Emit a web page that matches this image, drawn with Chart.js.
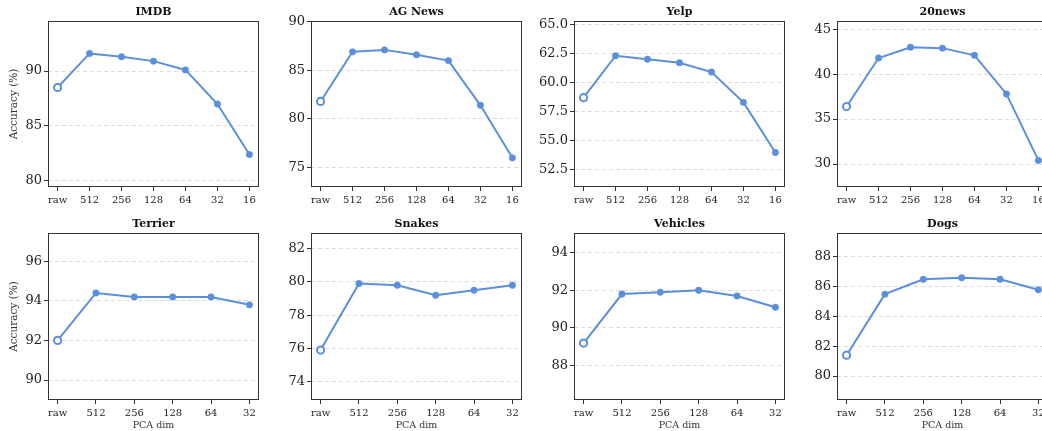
<!DOCTYPE html>
<html>
<head>
<meta charset="utf-8">
<script src="https://cdn.jsdelivr.net/npm/chart.js@4/dist/chart.umd.min.js"></script>
<style>
    html, body { margin: 0; padding: 0; background: #fff; overflow: hidden; }
    #grid { position: relative; width: 1042px; height: 431px; overflow: hidden; }
    #grid canvas { position: absolute; }
</style>
</head>
<body>
<div id="grid"></div>
<script>
// PCA dimension sweep: accuracy per dataset

const textDims = ['raw', '512', '256', '128', '64', '32', '16'];
const imageDims = ['raw', '512', '256', '128', '64', '32'];

const imdbAcc = [88.5, 91.6, 91.3, 90.9, 90.1, 87.0, 82.4];
const agNewsAcc = [81.8, 86.9, 87.1, 86.6, 86.0, 81.4, 76.0];
const yelpAcc = [58.7, 62.3, 62.0, 61.7, 60.9, 58.3, 54.0];
const news20Acc = [36.4, 41.8, 43.0, 42.9, 42.1, 37.8, 30.4];
const terrierAcc = [92.0, 94.4, 94.2, 94.2, 94.2, 93.8];
const snakesAcc = [75.9, 79.9, 79.8, 79.2, 79.5, 79.8];
const vehiclesAcc = [89.2, 91.8, 91.9, 92.0, 91.7, 91.1];
const dogsAcc = [81.4, 85.5, 86.5, 86.6, 86.5, 85.8];

const imdbTicks = [80, 85, 90];
const agNewsTicks = [75, 80, 85, 90];
const yelpTicks = [52.5, 55, 57.5, 60, 62.5, 65];
const news20Ticks = [30, 35, 40, 45];
const terrierTicks = [90, 92, 94, 96];
const snakesTicks = [74, 76, 78, 80, 82];
const vehiclesTicks = [88, 90, 92, 94];
const dogsTicks = [80, 82, 84, 86, 88];

const SERIF = "'DejaVu Serif', 'Liberation Serif', serif";
const LINE = '#5b8fdb';
const AXIS = '#333';

const panels = [
    { title: 'IMDB', dims: textDims, acc: imdbAcc, ticks: imdbTicks, yMin: 79.45, yMax: 94.55, dec: 0, row: 0, col: 0 },
    { title: 'AG News', dims: textDims, acc: agNewsAcc, ticks: agNewsTicks, yMin: 73.0, yMax: 90.07, dec: 0, row: 0, col: 1 },
    { title: 'Yelp', dims: textDims, acc: yelpAcc, ticks: yelpTicks, yMin: 51.04, yMax: 65.28, dec: 1, row: 0, col: 2 },
    { title: '20news', dims: textDims, acc: news20Acc, ticks: news20Ticks, yMin: 27.44, yMax: 45.92, dec: 0, row: 0, col: 3 },
    { title: 'Terrier', dims: imageDims, acc: terrierAcc, ticks: terrierTicks, yMin: 88.99, yMax: 97.43, dec: 0, row: 1, col: 0 },
    { title: 'Snakes', dims: imageDims, acc: snakesAcc, ticks: snakesTicks, yMin: 72.9, yMax: 82.94, dec: 0, row: 1, col: 1 },
    { title: 'Vehicles', dims: imageDims, acc: vehiclesAcc, ticks: vehiclesTicks, yMin: 86.18, yMax: 95.04, dec: 0, row: 1, col: 2 },
    { title: 'Dogs', dims: imageDims, acc: dogsAcc, ticks: dogsTicks, yMin: 78.39, yMax: 89.61, dec: 0, row: 1, col: 3 }
];

// full box around the plot area (top/right spines included)
const framePlugin = {
    id: 'frame',
    afterDraw(chart) {
        const { ctx, chartArea: a } = chart;
        ctx.save();
        ctx.strokeStyle = AXIS;
        ctx.lineWidth = 1;
        ctx.strokeRect(Math.round(a.left) + 0.5, Math.round(a.top) + 0.5,
            Math.round(a.right - a.left) - 1, Math.round(a.bottom - a.top) - 1);
        ctx.restore();
    }
};

// bold title centred over the plot area, not the whole canvas
const panelTitlePlugin = {
    id: 'panelTitle',
    afterDraw(chart, args, opts) {
        const { ctx, chartArea: a } = chart;
        ctx.save();
        ctx.fillStyle = '#111';
        ctx.font = `bold 11px ${SERIF}`;
        ctx.textAlign = 'center';
        ctx.textBaseline = 'middle';
        ctx.fillText(opts.text, (a.left + a.right) / 2, a.top - 9);
        ctx.restore();
    }
};

function buildPanel(p) {
    const grid = document.getElementById('grid');
    const canvas = document.createElement('canvas');
    const bottomRow = p.row === 1;
    canvas.width = 265;
    canvas.height = bottomRow ? 219 : 215;
    canvas.style.left = (p.col * 263) + 'px';
    canvas.style.top = (bottomRow ? 212 : 0) + 'px';
    grid.appendChild(canvas);

    const n = p.acc.length;
    const margin = 0.05 * (n - 1);

    new Chart(canvas, {
        type: 'line',
        data: {
            datasets: [{
                data: p.acc.map((v, i) => ({ x: i, y: v })),
                borderColor: LINE,
                borderWidth: 2,
                tension: 0,
                pointRadius: p.acc.map((_, i) => i === 0 ? 3.6 : 3.2),
                pointBackgroundColor: p.acc.map((_, i) => i === 0 ? '#fff' : LINE),
                pointBorderColor: LINE,
                pointBorderWidth: p.acc.map((_, i) => i === 0 ? 2 : 0.6),
                clip: false
            }]
        },
        options: {
            responsive: false,
            animation: false,
            events: [],
            layout: { padding: { left: 0, right: 4, top: 21, bottom: 0 } },
            plugins: {
                legend: { display: false },
                tooltip: { enabled: false },
                panelTitle: { text: p.title }
            },
            scales: {
                x: {
                    type: 'linear',
                    min: -margin,
                    max: n - 1 + margin,
                    afterBuildTicks: (s) => { s.ticks = p.dims.map((_, i) => ({ value: i })); },
                    afterFit: (s) => {
                        s.height = bottomRow ? 31 : 28;
                        s.paddingLeft = 0;
                        s.paddingRight = 0;
                    },
                    ticks: {
                        callback: (v) => p.dims[v],
                        autoSkip: false,
                        maxRotation: 0,
                        color: '#222',
                        padding: 3,
                        font: { family: SERIF, size: 10 }
                    },
                    grid: { drawOnChartArea: false, drawTicks: true, tickLength: 4, tickColor: AXIS },
                    border: { display: false },
                    title: {
                        display: bottomRow,
                        text: 'PCA dim',
                        color: '#333',
                        font: { family: SERIF, size: 9.5, lineHeight: 1 },
                        padding: { top: 0, bottom: 0.3 }
                    }
                },
                y: {
                    min: p.yMin,
                    max: p.yMax,
                    afterBuildTicks: (s) => { s.ticks = p.ticks.map((v) => ({ value: v })); },
                    afterFit: (s) => {
                        s.width = 48;
                        s.paddingTop = 0;
                        s.paddingBottom = 0;
                    },
                    ticks: {
                        callback: (v) => v.toFixed(p.dec),
                        color: '#222',
                        padding: 2,
                        font: { family: SERIF, size: 13 }
                    },
                    grid: { color: '#dddddd', lineWidth: 1, drawTicks: true, tickLength: 4, tickColor: AXIS },
                    border: { display: false, dash: [4, 3] },
                    title: {
                        display: p.col === 0,
                        text: 'Accuracy (%)',
                        color: '#333',
                        font: { family: SERIF, size: 10.5, lineHeight: 1.2 },
                        padding: { top: 8.4, bottom: 0 }
                    }
                }
            }
        },
        plugins: [framePlugin, panelTitlePlugin]
    });
}

document.addEventListener('DOMContentLoaded', () => {
    panels.forEach(buildPanel);
});
</script>
</body>
</html>
